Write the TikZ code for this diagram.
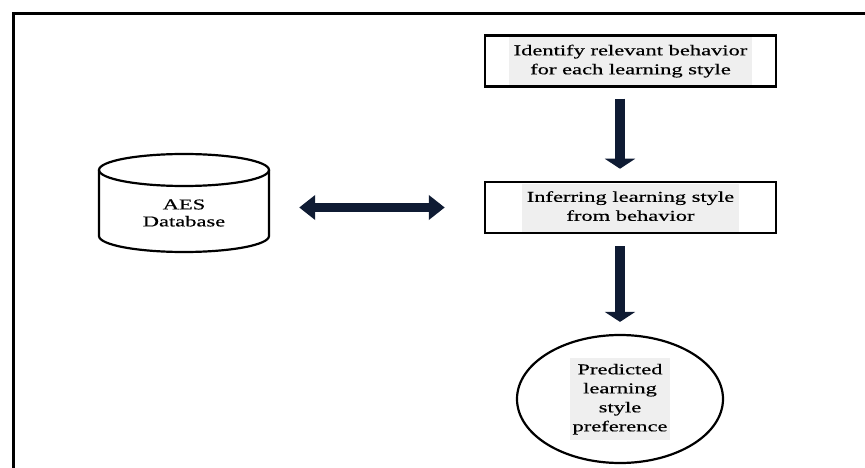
\documentclass[tikz,border=0pt]{standalone}
\usepackage{fontspec}
\setmainfont[FakeStretch=1.5,FakeBold=0.5]{Liberation Serif}
\usetikzlibrary{arrows.meta,shapes.geometric}
\definecolor{arrowcol}{HTML}{0F1B33}
\definecolor{textbg}{HTML}{EFEFEF}
\newcommand{\shaded}[1]{\colorbox{textbg}{\begin{tabular}{@{}c@{}}#1\end{tabular}}}
\tikzset{
  frameline/.style={line width=3pt},
  stepbox/.style={draw, line width=2.5pt, rectangle, minimum width=291pt, minimum height=51pt, inner sep=0pt},
  outcome/.style={draw, line width=2.2pt, ellipse, minimum width=206pt, minimum height=128pt, inner sep=0pt},
  dbshape/.style={line width=2.2pt},
  label text/.style={font=\fontsize{15}{19}\selectfont, align=center},
  downarrow/.style={draw=arrowcol, line width=10pt, -{Triangle[width=30pt,length=10pt]}},
  bothway/.style={draw=arrowcol, line width=9pt, {Triangle[width=24pt,length=16pt]}-{Triangle[width=24pt,length=16pt]}},
}
\begin{document}
\begin{tikzpicture}[x=1pt,y=-1pt]
  \useasboundingbox (0,0) rectangle (865,468);
  \fill[white] (0,0) rectangle (865,468);

  % outer frame (open to the right and bottom)
  \draw[frameline] (13,468) -- (13,14) -- (865,14);

  % database cylinder
  \draw[dbshape] (184,170) ellipse [x radius=85pt, y radius=16pt];
  \draw[dbshape] (99,170) -- (99,236)
    arc[start angle=180, end angle=360, x radius=85pt, y radius=16pt]
    -- (269,170);
  \node[label text, minimum width=170pt, inner sep=0pt] (db) at (184,213) {AES\\[-2pt]Database};

  % process steps
  \node[stepbox, label text, fill=white, inner sep=0pt] (ident) at (630.5,61)
    {\setlength{\fboxsep}{5pt}\shaded{Identify relevant behavior\\for each learning style}};
  \node[stepbox, label text, inner sep=0pt] (infer) at (630.5,207.5)
    {\setlength{\fboxsep}{5pt}\shaded{Inferring learning style\\from behavior}};

  % outcome
  \node[outcome, label text] (pref) at (620,399)
    {\setlength{\fboxsep}{3pt}\shaded{Predicted\\learning\\style\\preference}};

  % connectors
  \draw[downarrow, shorten <=11pt, shorten >=12pt] (ident.south -| pref.north) -- (infer.north -| pref.north);
  \draw[downarrow, shorten <=12pt, shorten >=12pt] (infer.south -| pref.north) -- (pref.north);
  \draw[bothway, shorten <=30pt, shorten >=39pt] (db.east |- infer.west) -- (infer.west);
\end{tikzpicture}
\end{document}
